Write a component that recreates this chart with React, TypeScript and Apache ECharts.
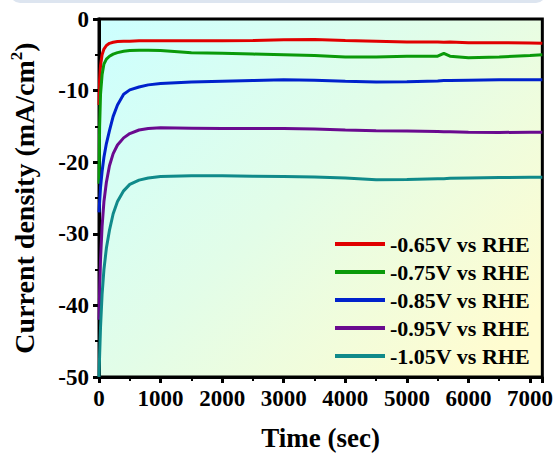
import React, { useEffect, useRef } from "react";
import * as echarts from "echarts";

const times = [0, 10, 25, 50, 80, 120, 170, 230, 300, 400, 500, 650, 800, 1000, 1500, 2000, 2500, 3000, 3500, 4000, 4500, 5000, 5500, 5600, 5700, 6000, 6500, 7000, 7200];
const seriesNames = ["-0.65V vs RHE", "-0.75V vs RHE", "-0.85V vs RHE", "-0.95V vs RHE", "-1.05V vs RHE"];
const colors = ["#e00000", "#0a9a0a", "#0022cc", "#6a0a8f", "#108a8a"];
const red = [-12, -8.5, -6.5, -5.0, -4.2, -3.7, -3.4, -3.25, -3.15, -3.1, -3.1, -3.05, -3.05, -3.05, -3.05, -3.05, -3.0, -2.9, -2.85, -3.0, -3.1, -3.2, -3.2, -3.25, -3.2, -3.3, -3.3, -3.35, -3.4];
const green = [-23, -15, -10.5, -7.8, -6.3, -5.6, -5.2, -4.9, -4.7, -4.5, -4.4, -4.35, -4.35, -4.4, -4.7, -4.8, -4.9, -5.0, -5.1, -5.3, -5.3, -5.2, -5.2, -4.8, -5.2, -5.4, -5.3, -5.1, -5.0];
const blue = [-27, -25.5, -23.5, -21.3, -19.3, -17.4, -15.6, -13.6, -12.0, -10.5, -9.9, -9.5, -9.2, -9.0, -8.8, -8.7, -8.6, -8.5, -8.55, -8.7, -8.8, -8.75, -8.65, -8.6, -8.6, -8.55, -8.5, -8.5, -8.5];
const purple = [-42, -38, -33.5, -29, -25.5, -22.8, -20.5, -18.8, -17.6, -16.6, -16.0, -15.5, -15.3, -15.2, -15.25, -15.3, -15.3, -15.3, -15.35, -15.5, -15.6, -15.65, -15.7, -15.75, -15.75, -15.8, -15.85, -15.8, -15.8];
const teal = [-50, -47, -43, -38.5, -35, -32, -29.5, -27.2, -25.5, -24, -23.1, -22.5, -22.2, -22.0, -21.9, -21.9, -21.95, -22.0, -22.05, -22.2, -22.45, -22.4, -22.3, -22.3, -22.25, -22.2, -22.15, -22.1, -22.1];
const allValues = [red, green, blue, purple, teal];

const FONT = "'Liberation Serif', 'Times New Roman', serif";

export default function App() {
  const ref = useRef<HTMLDivElement>(null);
  useEffect(() => {
    if (!ref.current) return;
    const chart = echarts.init(ref.current, null, { renderer: "svg" });
    chart.setOption({
      animation: false,
      backgroundColor: "#ffffff",
      graphic: [
        {
          type: "rect",
          shape: { x: 10, y: -20, width: 536, height: 23, r: 10 },
          style: { fill: "#dde5f0" },
          z: -1,
        },
      ],
      grid: {
        left: 98,
        right: 13,
        top: 19,
        bottom: 77,
        show: true,
        borderColor: "#000",
        borderWidth: 3,
        backgroundColor: new echarts.graphic.LinearGradient(0, 0, 1, 0.8, [
          { offset: 0, color: "#ccffff" },
          { offset: 0.5, color: "#e2fde8" },
          { offset: 1, color: "#fffcd0" },
        ]),
      },
      legend: {
        orient: "vertical",
        left: 335,
        top: 233,
        padding: 0,
        itemWidth: 50,
        itemHeight: 4,
        itemGap: 6,
        itemTextGap: 5,
        icon: "rect",
        textStyle: { fontFamily: FONT, fontWeight: "bold", fontSize: 22, color: "#000" },
        data: seriesNames,
      },
      xAxis: {
        type: "value",
        min: 0,
        max: 7200,
        interval: 1000,
        name: "Time (sec)",
        nameLocation: "middle",
        nameGap: 47,
        nameTextStyle: { fontFamily: FONT, fontWeight: "bold", fontSize: 27, color: "#000" },
        axisLine: { onZero: false, lineStyle: { color: "#000", width: 3 } },
        axisTick: { show: true, inside: false, length: 6, lineStyle: { width: 3, color: "#000" } },
        minorTick: { show: true, splitNumber: 2, length: 4, lineStyle: { width: 2, color: "#000" } },
        splitLine: { show: false },
        axisLabel: {
          showMaxLabel: false,
          margin: 10,
          formatter: (v: number) => String(v),
          fontFamily: FONT,
          fontWeight: "bold",
          fontSize: 23,
          color: "#000",
        },
      },
      yAxis: {
        type: "value",
        min: -50,
        max: 0,
        interval: 10,
        name: "{a|Current density (mA/cm}{s|2}{a|)}",
        nameLocation: "middle",
        nameGap: 59,
        nameTextStyle: {
          rich: {
            a: { fontFamily: FONT, fontWeight: "bold", fontSize: 28, color: "#000", lineHeight: 32 },
            s: { fontFamily: FONT, fontWeight: "bold", fontSize: 17, color: "#000", verticalAlign: "top", lineHeight: 32 },
          },
        },
        axisLine: { onZero: false, lineStyle: { color: "#000", width: 3 } },
        axisTick: { show: true, inside: false, length: 6, lineStyle: { width: 3, color: "#000" } },
        minorTick: { show: true, splitNumber: 2, length: 4, lineStyle: { width: 2, color: "#000" } },
        splitLine: { show: false },
        axisLabel: { margin: 10, fontFamily: FONT, fontWeight: "bold", fontSize: 23, color: "#000" },
      },
      series: seriesNames.map((name, i) => ({
        name,
        type: "line",
        data: times.map((t, j) => [t, allValues[i][j]]),
        showSymbol: false,
        symbol: "none",
        smooth: false,
        lineStyle: { color: colors[i], width: 3 },
        itemStyle: { color: colors[i] },
      })),
    });
    return () => chart.dispose();
  }, []);
  return (
    <div
      ref={ref}
      style={{ position: "fixed", left: 0, top: 0, width: 556, height: 456 }}
    />
  );
}
